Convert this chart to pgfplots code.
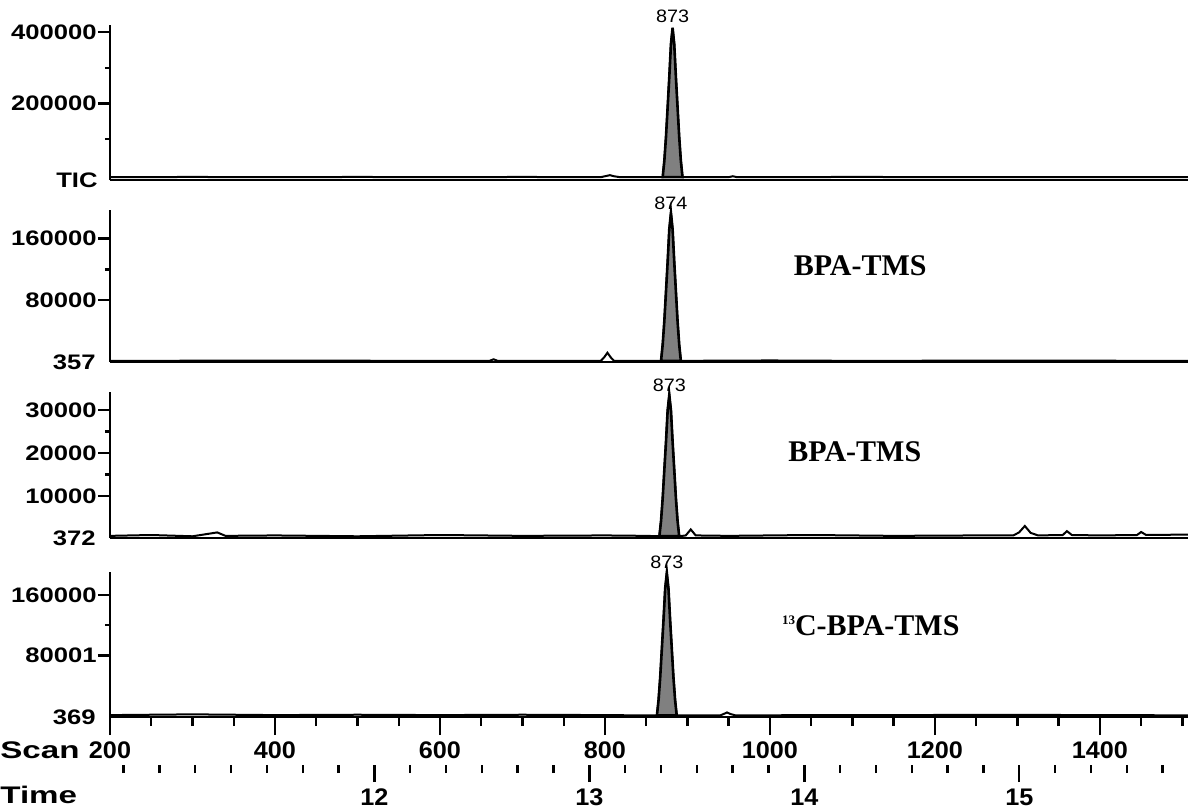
\documentclass[border=0pt]{standalone}
\usepackage{fontspec}
\setmainfont{Liberation Sans}
\newfontfamily\tickfont{Liberation Sans}[FakeStretch=1.22]
\newfontfamily\rowfont{Liberation Sans}[FakeStretch=1.05]
\newfontfamily\wordfont{Liberation Sans}[FakeStretch=1.38]
\newfontfamily\peakfont{Liberation Sans}[FakeStretch=1.1]
\newfontfamily\serif{Liberation Serif}
\usepackage{pgfplots}
\pgfplotsset{compat=1.18}

\newcommand{\ylab}{\tickfont\bfseries\fontsize{10.5}{12}\selectfont}
\newcommand{\xlab}{\rowfont\bfseries\fontsize{12}{14}\selectfont}
\newcommand{\pk}{\peakfont\fontsize{9}{10}\selectfont}
\newcommand{\cmp}{\serif\bfseries\fontsize{15}{18}\selectfont}

\pgfplotsset{
  panel/.style={
    scale only axis, width=539pt, anchor=south west,
    xmin=200, xmax=1506.8,
    axis x line*=bottom, axis y line*=left,
    axis line style={line width=1.3pt, -},
    xtick=\empty, tick align=outside, scaled y ticks=false,
    major tick length=6pt, minor tick length=2.5pt,
    every tick/.style={black, line width=1.2pt},
    yticklabel style={font=\ylab, inner xsep=0.5pt},
    clip=false,
  },
  trace/.style={black, line width=1pt},
  peak/.style={draw=black, line width=1.3pt, fill=black!50},
  ticksonly/.style={
    scale only axis, width=539pt, height=10pt, anchor=south west,
    ymin=0, ymax=1, hide y axis,
    axis x line*=bottom, x axis line style={draw=none},
    tick align=outside,
    every tick/.style={black, line width=1.2pt},
    xticklabel style={font=\xlab},
  },
}

\begin{document}
\begin{tikzpicture}
\path[use as bounding box] (0,0) rectangle (594pt,405.5pt);

% TIC
\begin{axis}[panel, at={(55pt,315.5pt)}, height=77.5pt,
  ymin=-14000, ymax=420000,
  ytick={200000,400000}, yticklabels={200000,400000},
  minor ytick={100000,300000}]
\addplot[trace] coordinates {(200,-6000) (300,-5500) (400,-6000) (500,-5500) (600,-6000) (700,-5500) (795,-6000) (801,-3000) (806,-500) (811,-3500) (818,-6000) (870,-6000)
 (872,40000) (874,107000) (876,190000) (878,274000) (880,366000) (882,412000) (884,366000) (886,274000) (888,190000) (890,107000) (892,40000) (894,-6000)
 (950,-6000) (955,-3500) (960,-6000) (1100,-5500) (1300,-6000) (1506.8,-6000)};
\addplot[peak] coordinates {(870,-6000) (872,40000) (874,107000) (876,190000) (878,274000) (880,366000) (882,412000) (884,366000) (886,274000) (888,190000) (890,107000) (892,40000) (894,-6000)} -- cycle;
\node[anchor=south, font=\pk, inner sep=0pt, yshift=2.5pt] at (axis cs:882,412000) {873};
\node[anchor=east, font=\ylab, inner sep=0pt, xshift=-6pt] at (rel axis cs:0,0) {TIC};
\end{axis}

% BPA-TMS 357
\begin{axis}[panel, at={(55pt,224.5pt)}, height=76pt,
  ymin=0, ymax=197000,
  ytick={80000,160000}, yticklabels={80000,160000},
  minor ytick={120000}]
\addplot[trace] coordinates {(200,1500) (400,1800) (600,1500) (660,1500) (665,3500) (670,1500) (795,1500) (799,6000) (803,12000) (807,6000) (811,1500) (868,1500)
 (870,22600) (872,53200) (874,91500) (876,129800) (878,172000) (880,193000) (882,172000) (884,129800) (886,91500) (888,53200) (890,22600) (892,1500)
 (1000,2000) (1100,1500) (1300,1800) (1506.8,1500)};
\addplot[peak] coordinates {(868,1500) (870,22600) (872,53200) (874,91500) (876,129800) (878,172000) (880,193000) (882,172000) (884,129800) (886,91500) (888,53200) (890,22600) (892,1500)} -- cycle;
\node[anchor=south, font=\pk, inner sep=0pt, yshift=1.5pt] at (axis cs:880,193000) {874};
\node[anchor=east, font=\ylab, inner sep=0pt, xshift=-7pt] at (rel axis cs:0,0) {357};
\node[anchor=west, font=\cmp, inner sep=0pt] at (rel axis cs:0.634,0.632) {BPA-TMS};
\end{axis}

% BPA-TMS 372
\begin{axis}[panel, at={(55pt,136.5pt)}, height=73pt,
  ymin=200, ymax=34200,
  ytick={10000,20000,30000}, yticklabels={10000,20000,30000},
  minor ytick={15000,25000}]
\addplot[trace] coordinates {(200,700) (250,900) (300,600) (330,1500) (340,700) (400,800) (500,600) (600,900) (700,700) (800,800) (850,700) (866,600)
 (868,4200) (870,9500) (872,16100) (874,22600) (876,29900) (878,33500) (880,29900) (882,22600) (884,16100) (886,9500) (888,4200) (890,600)
 (898,800) (904,2200) (910,800) (950,700) (1050,900) (1150,700) (1250,800) (1295,800) (1302,1500) (1309,3000) (1316,1400) (1325,800) (1355,900) (1360,1800) (1366,900) (1400,800) (1445,900) (1450,1600) (1456,900) (1506.8,1000)};
\addplot[peak] coordinates {(866,600) (868,4200) (870,9500) (872,16100) (874,22600) (876,29900) (878,33500) (880,29900) (882,22600) (884,16100) (886,9500) (888,4200) (890,600)} -- cycle;
\node[anchor=south, font=\pk, inner sep=0pt, yshift=1.5pt] at (axis cs:878,33500) {873};
\node[anchor=east, font=\ylab, inner sep=0pt, xshift=-7pt] at (rel axis cs:0,0) {372};
\node[anchor=west, font=\cmp, inner sep=0pt] at (rel axis cs:0.629,0.589) {BPA-TMS};
\end{axis}

% 13C-BPA-TMS 369
\begin{axis}[panel, at={(55pt,47pt)}, height=72.5pt,
  ymin=-1000, ymax=190000,
  ytick={80001,160000}, yticklabels={80001,160000},
  minor ytick={120000}]
\addplot[trace] coordinates {(200,1500) (300,2500) (400,1500) (500,2000) (600,1500) (700,2000) (800,1500) (863,1000)
 (865,21600) (867,51700) (869,89200) (871,126800) (873,168000) (875,188700) (877,168000) (879,126800) (881,89200) (883,51700) (885,21600) (887,1000)
 (940,1200) (945,3500) (948,5000) (952,3000) (958,1200) (1100,1500) (1300,1800) (1506.8,1200)};
\addplot[peak] coordinates {(863,1000) (865,21600) (867,51700) (869,89200) (871,126800) (873,168000) (875,188700) (877,168000) (879,126800) (881,89200) (883,51700) (885,21600) (887,1000)} -- cycle;
\node[anchor=south, font=\pk, inner sep=0pt, yshift=2pt] at (axis cs:875,188700) {873};
\node[anchor=east, font=\ylab, inner sep=0pt, xshift=-7pt] at (rel axis cs:0,0) {369};
\node[anchor=west, font=\cmp, inner sep=0pt] at (rel axis cs:0.623,0.628) {\raisebox{5.6pt}{\fontsize{6.5}{7}\selectfont 13}C-BPA-TMS};
\end{axis}

% scan ticks
\begin{axis}[ticksonly, at={(55pt,47pt)},
  xmin=200, xmax=1506.8,
  xtick={200,400,600,800,1000,1200,1400},
  xticklabels={200,400,600,800,1000,1200,1400},
  minor xtick={250,300,...,1500},
  major tick length=9pt, minor tick length=4.5pt]
\end{axis}

% time ticks, in steps of 10 s (x = 6 * minutes)
\begin{axis}[ticksonly, at={(55pt,23pt)},
  xmin=64.621, xmax=94.709,
  xtick={72,78,84,90}, xticklabels={12,13,14,15},
  minor xtick={65,66,...,94},
  major tick length=8.5pt, minor tick length=4pt]
\end{axis}

\node[anchor=west, inner sep=0pt, font=\wordfont\bfseries\fontsize{12}{14}\selectfont] at (0,30.5pt) {Scan};
\node[anchor=west, inner sep=0pt, font=\wordfont\bfseries\fontsize{12}{14}\selectfont] at (0,8pt) {Time};
\end{tikzpicture}
\end{document}
